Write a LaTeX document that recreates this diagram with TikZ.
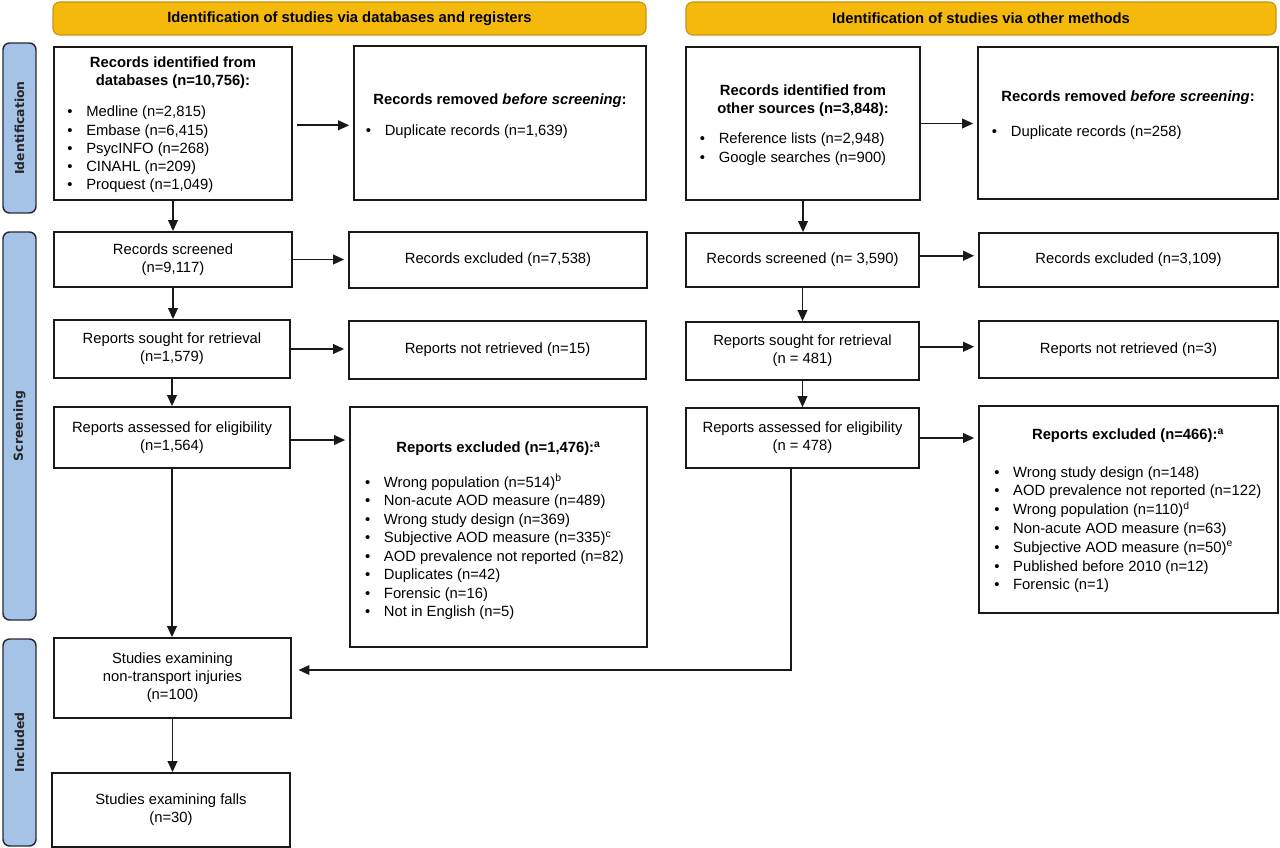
\documentclass[tikz,border=0pt]{standalone}
\usepackage{fontspec}
\setmainfont{Liberation Sans}
\newfontfamily\sidefont{DejaVu Sans}
\usetikzlibrary{arrows.meta}
\definecolor{hdrfill}{RGB}{245,185,12}
\definecolor{hdrline}{RGB}{196,148,18}
\definecolor{sidefill}{RGB}{165,195,231}
\definecolor{sideline}{RGB}{38,42,50}
\definecolor{boxline}{RGB}{25,25,25}
\newcommand\mybox[6]{\node[box, minimum width={(#4-#2)*0.75pt}, minimum height={(#5-#3)*0.75pt}] (#1) at ({(#2+#4)/2},{(#3+#5)/2}) {#6};}
\newcommand\myhdr[6]{\node[hdr, minimum width={(#4-#2)*0.75pt}, minimum height={(#5-#3)*0.75pt}] (#1) at ({(#2+#4)/2},{(#3+#5)/2}) {#6};}
\newcommand\myside[6]{\node[side, rotate=90, minimum width={(#5-#3)*0.75pt}, minimum height={(#4-#2)*0.75pt}] (#1) at ({(#2+#4)/2},{(#3+#5)/2}) {#6};}
\newcommand\bul{\llap{\textbullet\kern10.3pt}}
\tikzset{
  box/.style={draw=boxline, line width=1.3pt, inner sep=0pt, align=center, font=\fontsize{11.1}{13.5}\selectfont},
  hdr/.style={draw=hdrline, fill=hdrfill, line width=0.8pt, rounded corners=5pt, inner sep=0pt, font=\bfseries\fontsize{11.1}{13.5}\selectfont},
  side/.style={draw=sideline, fill=sidefill, line width=1.1pt, rounded corners=5pt, inner sep=0pt, text=black!85, font=\sidefont\bfseries\fontsize{9.3}{11}\selectfont},
  item/.style={anchor=base west, inner sep=0pt, font=\fontsize{11.1}{13.5}\selectfont},
  ttl/.style={anchor=base, inner sep=0pt, font=\bfseries\fontsize{11.1}{13.5}\selectfont},
  arr/.style={draw=boxline, line width=1.3pt, -{Triangle[length=8.2pt,width=7.2pt]}},
}
\begin{document}
\begin{tikzpicture}[x=0.75pt,y=-0.75pt]
\useasboundingbox (0,0) rectangle (1280,848);
% headers
\myhdr{H1}{53}{2}{646}{35}{Identification of studies via databases and registers}
\myhdr{H2}{686}{2}{1276}{35}{Identification of studies via other methods}
% side labels
\myside{S1}{3}{43}{36}{213}{Identification}
\myside{S2}{3}{232}{36}{620}{Screening}
\myside{S3}{3}{639}{36}{846}{Included}
% left column
\mybox{B1}{54}{47}{292}{200}{}
\mybox{B2}{354}{46}{646}{200}{}
\mybox{B3}{54}{232}{292}{287}{Records screened\\(n=9,117)}
\mybox{B4}{349}{232}{647}{288}{Records excluded (n=7,538)}
\mybox{B5}{54}{320}{290}{378}{Reports sought for retrieval\\(n=1,579)}
\mybox{B6}{349}{321}{646}{379}{Reports not retrieved (n=15)}
\mybox{B7}{54}{407}{290}{468}{Reports assessed for eligibility\\(n=1,564)}
\mybox{B8}{350}{407}{647}{647}{}
\mybox{B9}{54}{638}{291}{718}{Studies examining\\non-transport injuries\\(n=100)}
\mybox{B10}{52}{773}{290}{847}{Studies examining falls\\(n=30)}
% right column
\mybox{C1}{686}{47}{920}{200}{}
\mybox{C2}{978}{47}{1278}{199}{}
\mybox{C3}{686}{233}{919}{287}{Records screened (n= 3,590)}
\mybox{C4}{979}{233}{1278}{287}{Records excluded (n=3,109)}
\mybox{C5}{686}{322}{919}{380}{Reports sought for retrieval\\(n = 481)}
\mybox{C6}{979}{321}{1278}{378}{Reports not retrieved (n=3)}
\mybox{C7}{686}{408}{919}{468}{Reports assessed for eligibility\\(n = 478)}
\mybox{C8}{979}{406}{1278}{613}{}
% texts in list boxes
\node[ttl] (B1t1) at (173,68) {Records identified from};
\node[ttl] (B1t2) at (173,86) {databases (n=10,756):};
\foreach \t [count=\i] in {{Medline (n=2,815)},{Embase (n=6,415)},{PsycINFO (n=268)},{CINAHL (n=209)},{Proquest (n=1,049)}}
  \node[item] (B1i\i) at (86,{117+18.25*(\i-1)}) {\bul\t};
\node[ttl] (B2t) at (500,105) {Records removed \textit{before screening}:};
\node[item] (B2i1) at (384.5,136) {\bul Duplicate records (n=1,639)};
\node[ttl] (B8t) at (498.5,452.7) {Reports excluded (n=1,476):\textsuperscript{a}};
\foreach \t [count=\i] in {{Wrong population (n=514)\textsuperscript{b}},{Non-acute AOD measure (n=489)},{Wrong study design (n=369)},{Subjective AOD measure (n=335)\textsuperscript{c}},{AOD prevalence not reported (n=82)},{Duplicates (n=42)},{Forensic (n=16)},{Not in English (n=5)}}
  \node[item] (B8i\i) at (383.7,{487+18.5*(\i-1)}) {\bul\t};
\node[ttl] (C1t1) at (803,96) {Records identified from};
\node[ttl] (C1t2) at (803,114) {other sources (n=3,848):};
\foreach \t [count=\i] in {{Reference lists (n=2,948)},{Google searches (n=900)}}
  \node[item] (C1i\i) at (718.5,{144+18.5*(\i-1)}) {\bul\t};
\node[ttl] (C2t) at (1128,102) {Records removed \textit{before screening}:};
\node[item] (C2i1) at (1010.6,137) {\bul Duplicate records (n=258)};
\node[ttl] (C8t) at (1128,439.3) {Reports excluded (n=466):\textsuperscript{a}};
\foreach \t [count=\i] in {{Wrong study design (n=148)},{AOD prevalence not reported (n=122)},{Wrong population (n=110)\textsuperscript{d}},{Non-acute AOD measure (n=63)},{Subjective AOD measure (n=50)\textsuperscript{e}},{Published before 2010 (n=12)},{Forensic (n=1)}}
  \node[item] (C8i\i) at (1012.9,{477+18.8*(\i-1)}) {\bul\t};
% horizontal arrows
\coordinate (a1) at ([yshift=-1.35pt]B1.east);
\draw[arr, shorten <=3pt, shorten >=3pt] (a1) -- (a1 -| B2.west);
\draw[arr, shorten >=3pt] (B3.east) -- (B3.east -| B4.west);
\draw[arr, shorten >=3pt] (B5.east) -- (B5.east -| B6.west);
\coordinate (a4) at ([yshift=-1.9pt]B7.east);
\draw[arr, shorten >=3pt] (a4) -- (a4 -| B8.west);
\draw[arr, shorten >=3pt] (C1.east) -- (C1.east -| C2.west);
\coordinate (c3) at ([yshift=3.2pt]C3.east);
\draw[arr, shorten >=3pt] (c3) -- (c3 -| C4.west);
\coordinate (c5) at ([yshift=3.2pt]C5.east);
\draw[arr, shorten >=3pt] (c5) -- (c5 -| C6.west);
\draw[arr, shorten >=3pt] (C7.east) -- (C7.east -| C8.west);
% vertical arrows
\draw[arr] (B1.south) -- (B1.south |- B3.north);
\draw[arr] (B3.south) -- (B3.south |- B5.north);
\draw[arr] (B5.south) -- (B5.south |- B7.north);
\draw[arr] (B7.south) -- (B7.south |- B9.north);
\draw[arr] (B9.south) -- (B9.south |- B10.north);
\draw[arr] (C1.south) -- (C1.south |- C3.north);
\draw[arr] (C3.south) -- (C3.south |- C5.north);
\draw[arr] (C5.south) -- (C5.south |- C7.north);
% merge arrow
\coordinate (m1) at (791,670);
\draw[arr, shorten >=5pt] (C7.south -| m1) -- (m1) -- (m1 -| B9.east);
\end{tikzpicture}
\end{document}
